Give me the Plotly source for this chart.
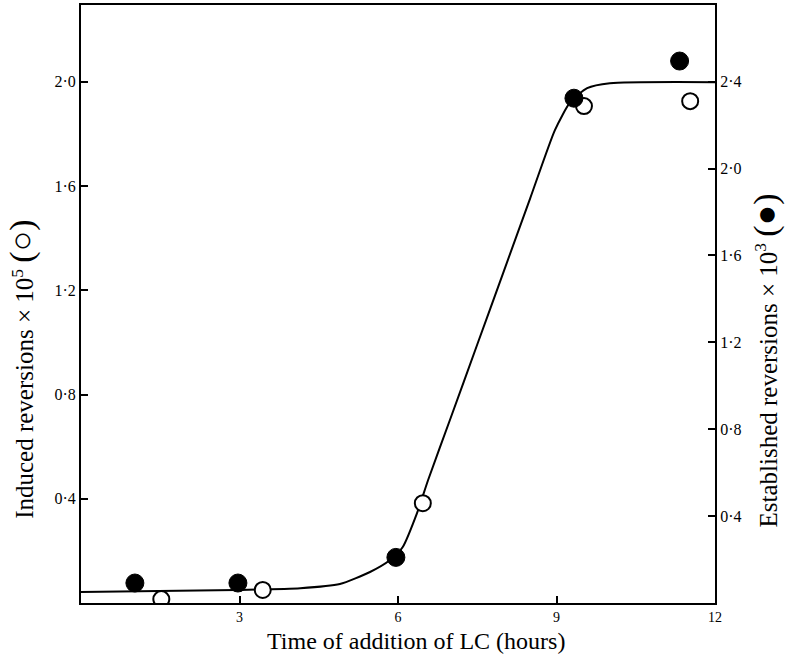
import plotly.graph_objects as go

# Induced reversions (open circles, left axis, x 10^5)
open_hours = [1.52, 3.44, 6.47, 9.52, 11.53]
open_vals = [0.015, 0.050, 0.383, 1.907, 1.926]

# Established reversions (filled circles, right axis, x 10^3)
filled_hours = [1.02, 2.97, 5.96, 9.33, 11.33]
filled_vals = [0.092, 0.092, 0.210, 2.324, 2.495]

# Fitted curve (left axis units)
curve_hours = [0.0, 2.95, 4.15, 4.90, 5.47, 5.85, 6.09, 6.36, 6.57, 7.0, 7.5, 8.0, 8.5, 8.97, 9.26, 9.58, 10.01, 12.0]
curve_vals = [0.042, 0.050, 0.057, 0.073, 0.119, 0.165, 0.215, 0.345, 0.472, 0.712, 0.992, 1.272, 1.552, 1.815, 1.922, 1.976, 1.995, 1.999]

x_ticks = [3, 6, 9, 12]
x_ticktext = ["3", "6", "9", "12"]
left_ticks = [0.4, 0.8, 1.2, 1.6, 2.0]
left_ticktext = ["0·4", "0·8", "1·2", "1·6", "2·0"]
right_ticks = [0.4, 0.8, 1.2, 1.6, 2.0, 2.4]
right_ticktext = ["0·4", "0·8", "1·2", "1·6", "2·0", "2·4"]

FONT = "Liberation Serif"

fig = go.Figure()
fig.add_trace(go.Scatter(x=curve_hours, y=curve_vals, mode="lines",
                         line=dict(color="black", width=2, shape="spline", smoothing=0.6),
                         hoverinfo="skip", showlegend=False))
fig.add_trace(go.Scatter(x=filled_hours, y=filled_vals, mode="markers", yaxis="y2",
                         marker=dict(size=18, color="black", line=dict(color="black", width=1)),
                         showlegend=False))
fig.add_trace(go.Scatter(x=open_hours, y=open_vals, mode="markers",
                         marker=dict(size=16, color="white", line=dict(color="black", width=2)),
                         showlegend=False))

axis_common = dict(showgrid=False, zeroline=False, showline=True, linecolor="black",
                   linewidth=2, ticks="inside", ticklen=7, tickwidth=1.5, tickcolor="black",
                   automargin=False)

fig.update_layout(
    width=787, height=658,
    margin=dict(l=81, r=72, t=5, b=55),
    plot_bgcolor="white", paper_bgcolor="white",
    font=dict(family=FONT, color="black"),
    xaxis=dict(range=[0, 12], tickvals=x_ticks, ticktext=x_ticktext, mirror=True,
               tickfont=dict(family=FONT, size=14, color="black"), **axis_common),
    yaxis=dict(range=[0, 2.295], tickvals=left_ticks, ticktext=left_ticktext,
               tickfont=dict(family=FONT, size=16, color="black"), **axis_common),
    yaxis2=dict(range=[0, 2.753], tickvals=right_ticks, ticktext=right_ticktext,
                overlaying="y", side="right",
                tickfont=dict(family=FONT, size=16, color="black"), **axis_common),
    annotations=[
        dict(text="Time of addition of LC (hours)", xref="paper", yref="paper",
             x=0.528, y=-0.063, showarrow=False, font=dict(family=FONT, size=24),
             xanchor="center", yanchor="middle"),
        dict(text="Induced reversions × 10<sup>5</sup> <span style='font-size:34px'>(○)</span>",
             xref="paper", yref="paper", x=-0.093, y=0.39, textangle=-90, showarrow=False,
             font=dict(family=FONT, size=25), xanchor="center", yanchor="middle"),
        dict(text="Established reversions × 10<sup>3</sup> <span style='font-size:34px'>(●)</span>",
             xref="paper", yref="paper", x=1.08, y=0.405, textangle=-90, showarrow=False,
             font=dict(family=FONT, size=25), xanchor="center", yanchor="middle"),
    ],
)

fig.write_html("out.html", post_script="document.body.style.margin='0';",
               config={"displayModeBar": False})
